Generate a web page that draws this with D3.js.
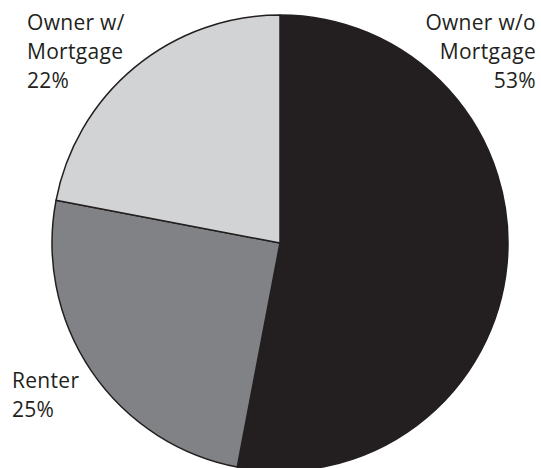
<!DOCTYPE html>
<html>
<head>
<meta charset="utf-8">
<script src="https://cdn.jsdelivr.net/npm/d3@7"></script>
<style>
  html, body { margin: 0; padding: 0; background: #fff; }
  svg { display: block; }
  .lbl { font-family: "Open Sans", sans-serif; font-size: 21px; fill: #231f20; letter-spacing: 0.3px; }
</style>
</head>
<body>
<svg id="chart" width="541" height="468"></svg>
<script>
// Housing tenure shares, clockwise from 12 o'clock
const categories = ["Owner w/o Mortgage", "Renter", "Owner w/ Mortgage"];
const shares = [53, 25, 22];
const labelLines = [
  ["Owner w/o", "Mortgage", "53%"],
  ["Renter", "25%"],
  ["Owner w/", "Mortgage", "22%"]
];
const fills = ["#231f20", "#808285", "#d1d3d4"];

const svg = d3.select("#chart");
const cx = 280, cy = 243, r = 228;

const data = categories.map((c, i) => ({ name: c, value: shares[i], lines: labelLines[i], fill: fills[i] }));

const pie = d3.pie().value(d => d.value).sort(null);
const arc = d3.arc().innerRadius(0).outerRadius(r);

const g = svg.append("g").attr("transform", `translate(${cx},${cy})`);
g.selectAll("path")
  .data(pie(data))
  .join("path")
  .attr("d", arc)
  .attr("fill", d => d.data.fill)
  .attr("stroke", "#231f20")
  .attr("stroke-width", 1.5)
  .attr("stroke-linejoin", "round");

// Labels sit in the corners outside the pie
const labelPos = [
  { x: 536, y: 30, anchor: "end" },
  { x: 12, y: 388, anchor: "start" },
  { x: 27, y: 30, anchor: "start" }
];
const lineH = 29;

data.forEach((d, i) => {
  const p = labelPos[i];
  const t = svg.append("text")
    .attr("class", "lbl")
    .attr("text-anchor", p.anchor)
    .attr("x", p.x)
    .attr("y", p.y);
  d.lines.forEach((ln, j) => {
    t.append("tspan").attr("x", p.x).attr("dy", j === 0 ? 0 : lineH).text(ln);
  });
});
</script>
</body>
</html>
